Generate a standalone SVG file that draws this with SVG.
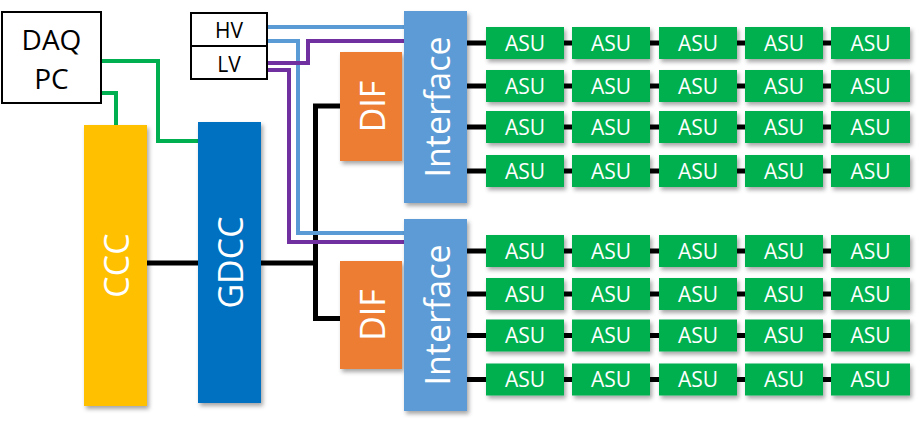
<svg xmlns="http://www.w3.org/2000/svg" width="920" height="429" viewBox="0 0 920 429">
<style>
text{font-family:"Open Sans","Noto Sans","Liberation Sans",sans-serif;}
.box{fill:#fff;stroke:#000;stroke-width:2}
.asu{fill:#00B050;filter:url(#sh)}
.asut{fill:#fff;font-size:21px;text-anchor:middle}
.big{fill:#fff;font-size:34px;text-anchor:middle}
.blk{fill:none;stroke:#000;stroke-width:5}
.grn{fill:none;stroke:#00B050;stroke-width:4}
.blu{fill:none;stroke:#5B9BD5;stroke-width:4}
.pur{fill:none;stroke:#7030A0;stroke-width:4}
</style>
<defs>
<filter id="sh" x="-20%" y="-20%" width="140%" height="150%">
<feDropShadow dx="2" dy="3" stdDeviation="2" flood-color="#000" flood-opacity="0.35"/>
</filter>
</defs>
<g id="connectors">
<path class="grn" d="M101,61 H158 V141 H200"/>
<path class="grn" d="M101,93 H116 V127"/>
<path class="blk" d="M147,263 H200"/>
<path class="blk" d="M259,263 H315.5 M315.5,106 V319 M313,106 H342 M313,318.5 H342"/>
<path class="blu" d="M267,27 H406"/>
<path class="blu" d="M267,41 H298 V233 H406"/>
<path class="pur" d="M267,63 H308 V41 H406"/>
<path class="pur" d="M267,70 H289 V242 H406"/>
<path class="blk" d="M465,43 H900 M465,86 H900 M465,127 H900 M465,171 H900 M465,251 H900 M465,294 H900 M465,335.5 H900 M465,379.5 H900"/>
</g>
<g id="daq"><rect class="box" x="2" y="12" width="99" height="91"/>
<text x="51.5" y="49.5" font-size="28" text-anchor="middle">DAQ</text>
<text x="51.5" y="88.5" font-size="28" text-anchor="middle">PC</text></g>
<g id="hv"><rect class="box" x="191" y="13" width="76" height="33"/>
<text x="229" y="37.5" font-size="21" text-anchor="middle">HV</text></g>
<g id="lv"><rect class="box" x="191" y="46" width="76" height="33"/>
<text x="229" y="72" font-size="21" text-anchor="middle">LV</text></g>
<g id="ccc"><rect x="84" y="125" width="63" height="281" fill="#FFC000" filter="url(#sh)"/>
<text class="big" transform="translate(116,265.5) rotate(-90)" dy="12.5">CCC</text></g>
<g id="gdcc"><rect x="198" y="122" width="63" height="281" fill="#0070C0" filter="url(#sh)"/>
<text class="big" transform="translate(230,262.5) rotate(-90)" dy="12.5">GDCC</text></g>
<g id="dif1"><rect x="340" y="52" width="62" height="109" fill="#ED7D31" filter="url(#sh)"/>
<text class="big" transform="translate(372,106.5) rotate(-90)" dy="13" font-size="36">DIF</text></g>
<g id="dif2"><rect x="340" y="261" width="62" height="108" fill="#ED7D31" filter="url(#sh)"/>
<text class="big" transform="translate(372,315) rotate(-90)" dy="13" font-size="36">DIF</text></g>
<g id="interface1"><rect x="404" y="11" width="63" height="192" fill="#5B9BD5" filter="url(#sh)"/>
<text class="big" transform="translate(437,107) rotate(-90)" dy="12.5" font-size="36">Interface</text></g>
<g id="interface2"><rect x="404" y="219" width="63" height="192" fill="#5B9BD5" filter="url(#sh)"/>
<text class="big" transform="translate(437,315) rotate(-90)" dy="12.5" font-size="36">Interface</text></g>
<g id="asus">
<g id="asu-r1">
<rect class="asu" x="486" y="27" width="78" height="32"/><text class="asut" x="525" y="50.5">ASU</text>
<rect class="asu" x="572" y="27" width="78" height="32"/><text class="asut" x="611" y="50.5">ASU</text>
<rect class="asu" x="659" y="27" width="78" height="32"/><text class="asut" x="698" y="50.5">ASU</text>
<rect class="asu" x="745" y="27" width="78" height="32"/><text class="asut" x="784" y="50.5">ASU</text>
<rect class="asu" x="831" y="27" width="79" height="32"/><text class="asut" x="870.5" y="50.5">ASU</text>
</g>
<g id="asu-r2">
<rect class="asu" x="486" y="70" width="78" height="32"/><text class="asut" x="525" y="93.5">ASU</text>
<rect class="asu" x="572" y="70" width="78" height="32"/><text class="asut" x="611" y="93.5">ASU</text>
<rect class="asu" x="659" y="70" width="78" height="32"/><text class="asut" x="698" y="93.5">ASU</text>
<rect class="asu" x="745" y="70" width="78" height="32"/><text class="asut" x="784" y="93.5">ASU</text>
<rect class="asu" x="831" y="70" width="79" height="32"/><text class="asut" x="870.5" y="93.5">ASU</text>
</g>
<g id="asu-r3">
<rect class="asu" x="486" y="111" width="78" height="32"/><text class="asut" x="525" y="134.5">ASU</text>
<rect class="asu" x="572" y="111" width="78" height="32"/><text class="asut" x="611" y="134.5">ASU</text>
<rect class="asu" x="659" y="111" width="78" height="32"/><text class="asut" x="698" y="134.5">ASU</text>
<rect class="asu" x="745" y="111" width="78" height="32"/><text class="asut" x="784" y="134.5">ASU</text>
<rect class="asu" x="831" y="111" width="79" height="32"/><text class="asut" x="870.5" y="134.5">ASU</text>
</g>
<g id="asu-r4">
<rect class="asu" x="486" y="155" width="78" height="32"/><text class="asut" x="525" y="178.5">ASU</text>
<rect class="asu" x="572" y="155" width="78" height="32"/><text class="asut" x="611" y="178.5">ASU</text>
<rect class="asu" x="659" y="155" width="78" height="32"/><text class="asut" x="698" y="178.5">ASU</text>
<rect class="asu" x="745" y="155" width="78" height="32"/><text class="asut" x="784" y="178.5">ASU</text>
<rect class="asu" x="831" y="155" width="79" height="32"/><text class="asut" x="870.5" y="178.5">ASU</text>
</g>
<g id="asu-r5">
<rect class="asu" x="486" y="235" width="78" height="32"/><text class="asut" x="525" y="258.5">ASU</text>
<rect class="asu" x="572" y="235" width="78" height="32"/><text class="asut" x="611" y="258.5">ASU</text>
<rect class="asu" x="659" y="235" width="78" height="32"/><text class="asut" x="698" y="258.5">ASU</text>
<rect class="asu" x="745" y="235" width="78" height="32"/><text class="asut" x="784" y="258.5">ASU</text>
<rect class="asu" x="831" y="235" width="79" height="32"/><text class="asut" x="870.5" y="258.5">ASU</text>
</g>
<g id="asu-r6">
<rect class="asu" x="486" y="278" width="78" height="32"/><text class="asut" x="525" y="301.5">ASU</text>
<rect class="asu" x="572" y="278" width="78" height="32"/><text class="asut" x="611" y="301.5">ASU</text>
<rect class="asu" x="659" y="278" width="78" height="32"/><text class="asut" x="698" y="301.5">ASU</text>
<rect class="asu" x="745" y="278" width="78" height="32"/><text class="asut" x="784" y="301.5">ASU</text>
<rect class="asu" x="831" y="278" width="79" height="32"/><text class="asut" x="870.5" y="301.5">ASU</text>
</g>
<g id="asu-r7">
<rect class="asu" x="486" y="319.5" width="78" height="32"/><text class="asut" x="525" y="343">ASU</text>
<rect class="asu" x="572" y="319.5" width="78" height="32"/><text class="asut" x="611" y="343">ASU</text>
<rect class="asu" x="659" y="319.5" width="78" height="32"/><text class="asut" x="698" y="343">ASU</text>
<rect class="asu" x="745" y="319.5" width="78" height="32"/><text class="asut" x="784" y="343">ASU</text>
<rect class="asu" x="831" y="319.5" width="79" height="32"/><text class="asut" x="870.5" y="343">ASU</text>
</g>
<g id="asu-r8">
<rect class="asu" x="486" y="363.5" width="78" height="32"/><text class="asut" x="525" y="387">ASU</text>
<rect class="asu" x="572" y="363.5" width="78" height="32"/><text class="asut" x="611" y="387">ASU</text>
<rect class="asu" x="659" y="363.5" width="78" height="32"/><text class="asut" x="698" y="387">ASU</text>
<rect class="asu" x="745" y="363.5" width="78" height="32"/><text class="asut" x="784" y="387">ASU</text>
<rect class="asu" x="831" y="363.5" width="79" height="32"/><text class="asut" x="870.5" y="387">ASU</text>
</g>
</g>
</svg>
